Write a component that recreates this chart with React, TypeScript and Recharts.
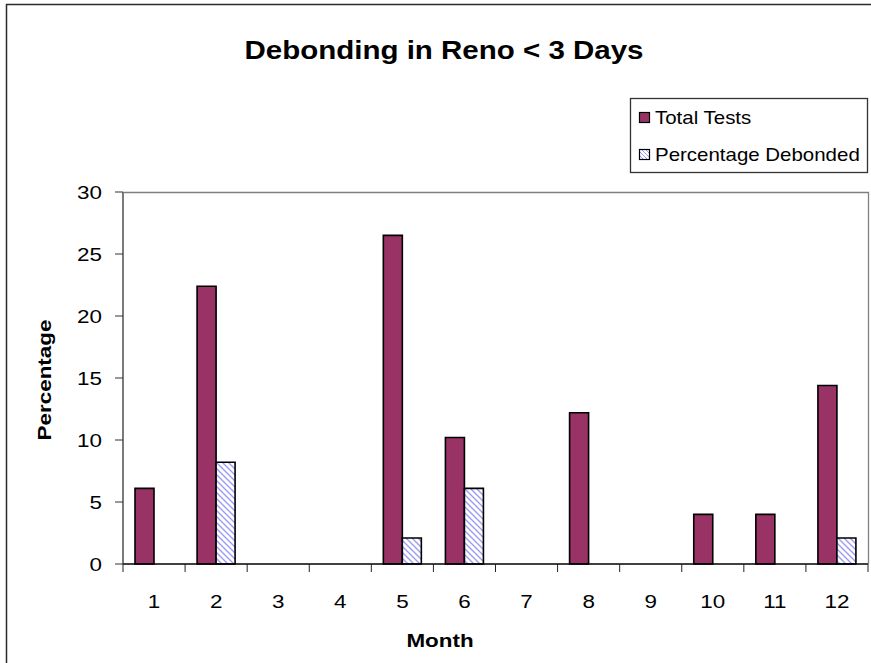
import { BarChart, Bar, XAxis, YAxis } from 'recharts'

const months = ['1', '2', '3', '4', '5', '6', '7', '8', '9', '10', '11', '12']
const totalTests = [6.1, 22.4, 0, 0, 26.5, 10.2, 0, 12.2, 0, 4.0, 4.0, 14.4]
const debonded = [0, 8.2, 0, 0, 2.1, 6.1, 0, 0, 0, 0, 0, 2.1]
const yTicks = [0, 5, 10, 15, 20, 25, 30]

const W = 871
const H = 663
const PLOT = { left: 123, right: 868, top: 192, bottom: 564 }
const BAND = (PLOT.right - PLOT.left) / months.length
const FONT = '"Liberation Sans", Arial, sans-serif'
const SX = 1.18 // old GDI text is wider than Arial

const data = months.map((m, i) => ({ month: m, total: totalTests[i], debonded: debonded[i] }))

const YTick = ({ x, y, payload }: any) => (
  <text transform={`translate(${x},${y}) scale(${SX},1)`} textAnchor="end" dy="0.36em" fontSize={19} fill="#000" fontFamily={FONT}>
    {payload.value}
  </text>
)

const XTick = ({ x, y, payload, index }: any) => (
  <g>
    <line x1={x - BAND / 2} x2={x - BAND / 2} y1={y - 8} y2={y} stroke="#222" />
    {index === months.length - 1 && <line x1={x + BAND / 2} x2={x + BAND / 2} y1={y - 8} y2={y} stroke="#222" />}
    <text transform={`translate(${x},${y + 36}) scale(${SX},1)`} textAnchor="middle" fontSize={19} fill="#000" fontFamily={FONT}>
      {payload.value}
    </text>
  </g>
)

export default function App() {
  return (
    <div style={{ position: 'absolute', left: 0, top: 0, width: W, height: H, background: '#fff', overflow: 'hidden' }}>
      <BarChart
        width={W}
        height={H}
        data={data}
        margin={{ top: PLOT.top, right: W - PLOT.right, bottom: H - PLOT.bottom - 40, left: PLOT.left - 60 }}
        barCategoryGap={12}
        barGap={0}
      >
        <defs>
          <pattern id="hatch" patternUnits="userSpaceOnUse" width={6} height={6}>
            <rect width={6} height={6} fill="#fff" />
            <path d="M0,0 L6,6 M-1,5 L1,7 M5,-1 L7,1" stroke="#9c9cf5" strokeWidth={1.4} />
          </pattern>
        </defs>
        <XAxis dataKey="month" height={40} tickSize={8} tickMargin={0} tickLine={false} axisLine={{ stroke: '#000', strokeWidth: 1.3 }} tick={<XTick />} interval={0} />
        <YAxis width={60} domain={[0, 30]} ticks={yTicks} tickSize={8} tickMargin={13} axisLine={{ stroke: '#333', strokeWidth: 1.3 }} tickLine={{ stroke: '#333' }} tick={<YTick />} interval={0} />
        <Bar dataKey="total" fill="#993366" stroke="#000" strokeWidth={1.6} isAnimationActive={false} />
        <Bar dataKey="debonded" fill="url(#hatch)" stroke="#000" strokeWidth={1.6} isAnimationActive={false} />
      </BarChart>
      <svg width={W} height={H} style={{ position: 'absolute', left: 0, top: 0, pointerEvents: 'none' }} fontFamily={FONT}>
        <rect x={6.5} y={4.5} width={W + 10} height={H + 10} fill="none" stroke="#2a2a2a" strokeWidth={1.5} />
        <path d={`M${PLOT.left},${PLOT.top + 0.5} H${PLOT.right + 0.5} V${PLOT.bottom}`} fill="none" stroke="#808080" strokeWidth={1.3} />
        <text transform={`translate(444,59) scale(${SX},1)`} textAnchor="middle" fontSize={25} fontWeight="bold">
          Debonding in Reno &lt; 3 Days
        </text>
        <text transform={`translate(440,647) scale(${SX},1)`} textAnchor="middle" fontSize={19} fontWeight="bold">
          Month
        </text>
        <text transform={`translate(51,380) rotate(-90) scale(${SX},1)`} textAnchor="middle" fontSize={19} fontWeight="bold">
          Percentage
        </text>
        <g>
          <rect x={630.5} y={98.5} width={237} height={74} fill="#fff" stroke="#333" strokeWidth={1.3} />
          <rect x={639.5} y={112.5} width={10} height={10} fill="#993366" stroke="#000" strokeWidth={1.2} />
          <text transform={`translate(655,124) scale(1.17,1)`} fontSize={17.5}>Total Tests</text>
          <rect x={639.5} y={149.5} width={10} height={10} fill="url(#hatch2)" stroke="#000" strokeWidth={1.2} />
          <text transform={`translate(655,161) scale(1.17,1)`} fontSize={17.5}>Percentage Debonded</text>
        </g>
        <defs>
          <pattern id="hatch2" patternUnits="userSpaceOnUse" width={4} height={4}>
            <rect width={4} height={4} fill="#fff" />
            <path d="M0,0 L4,4 M-1,3 L1,5 M3,-1 L5,1" stroke="#9c9cf5" strokeWidth={1} />
          </pattern>
        </defs>
      </svg>
    </div>
  )
}
